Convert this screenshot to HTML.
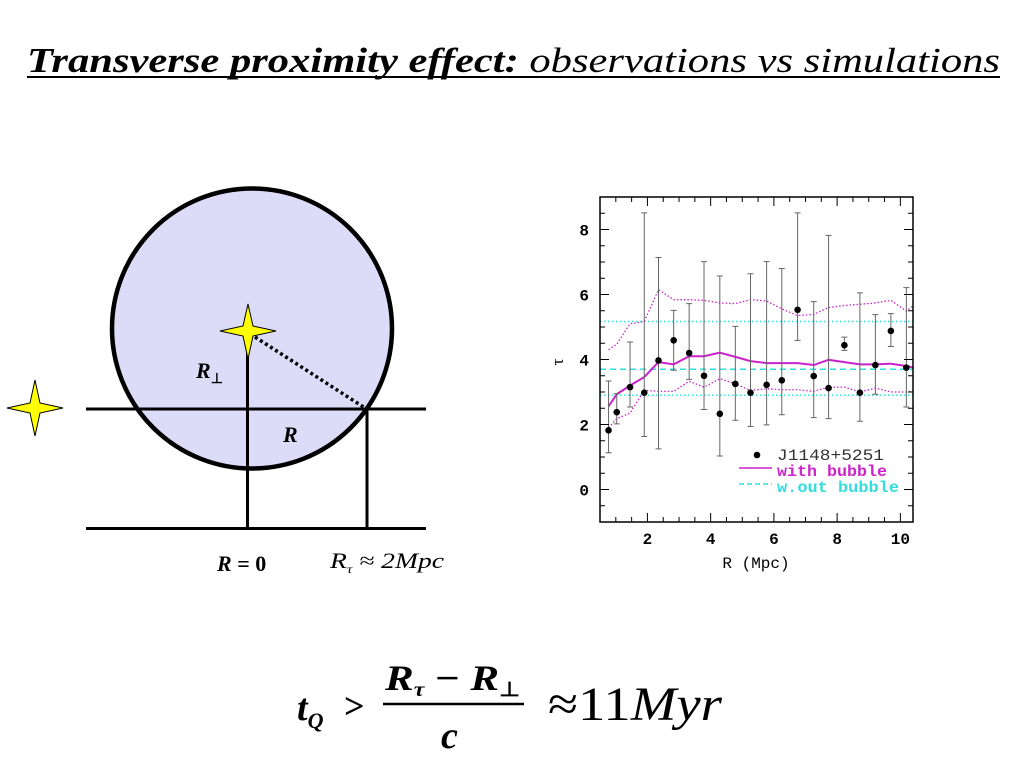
<!DOCTYPE html>
<html><head><meta charset="utf-8"><style>
body{margin:0;width:1024px;height:768px;background:#fff;overflow:hidden;font-family:"Liberation Serif",serif}
svg text{font-family:"Liberation Serif","Times New Roman",serif}
svg text.mono{font-family:"Liberation Mono",monospace}
</style></head><body>
<svg width="1024" height="768">
<text x="27" y="72" font-size="35" font-style="italic" textLength="973" lengthAdjust="spacingAndGlyphs"><tspan font-weight="bold">Transverse proximity effect:</tspan> observations vs simulations</text>
<line x1="27" y1="77" x2="1000" y2="77" stroke="#000" stroke-width="2"/>
<g>
<circle cx="252" cy="328.5" r="140" fill="#dcdcf8" stroke="#000" stroke-width="4.5"/>
<line x1="86" y1="409" x2="426" y2="409" stroke="#000" stroke-width="3"/>
<line x1="86" y1="528.5" x2="426" y2="528.5" stroke="#000" stroke-width="3"/>
<line x1="247.5" y1="345" x2="247.5" y2="528" stroke="#000" stroke-width="3"/>
<line x1="367" y1="409" x2="367" y2="528" stroke="#000" stroke-width="3"/>
<line x1="255" y1="337" x2="365" y2="408" stroke="#000" stroke-width="3.5" stroke-dasharray="3,3"/>
<path d="M248,304 L253,326 L276,331 L253,336 L248,359 L243,336 L220,331 L243,326Z" fill="#ffff00" stroke="#000" stroke-width="1"/>
<path d="M35,380 L40,403 L63,408 L40,413 L35,436 L30,413 L7,408 L30,403Z" fill="#ffff00" stroke="#000" stroke-width="1"/>
<text x="196" y="378" font-size="22" font-weight="bold" font-style="italic">R<tspan font-size="14" dy="5" font-style="normal">⊥</tspan></text>
<text x="283" y="442" font-size="22" font-weight="bold" font-style="italic">R</text>
<text x="217" y="571" font-size="22" font-weight="bold"><tspan font-style="italic">R</tspan> = 0</text>
<text x="330" y="568" font-size="22" font-style="italic" textLength="114" lengthAdjust="spacingAndGlyphs">R<tspan font-size="12" dy="5">τ</tspan><tspan dy="-5"> ≈ 2Mpc</tspan></text>
</g>
<g>
<text x="297" y="720" font-size="38" font-weight="bold" font-style="italic">t<tspan font-size="22" dy="8">Q</tspan></text>
<text x="344" y="718" font-size="36" font-weight="bold">&gt;</text>
<text x="385" y="690" font-size="36" font-weight="bold" font-style="italic" textLength="135" lengthAdjust="spacingAndGlyphs">R<tspan font-size="20" dy="6">τ</tspan><tspan dy="-6" font-style="normal"> − </tspan>R<tspan font-size="20" dy="6" font-style="normal">⊥</tspan></text>
<line x1="383" y1="704" x2="524" y2="704" stroke="#000" stroke-width="2.5"/>
<text x="441" y="748" font-size="38" font-weight="bold" font-style="italic">c</text>
<text x="548" y="720" font-size="48" textLength="174" lengthAdjust="spacingAndGlyphs">≈11<tspan font-style="italic">Myr</tspan></text>
</g>
<g id="chart"></g>
</svg>
<script>
const rX=[0.77,1.03,1.45,1.9,2.35,2.83,3.32,3.79,4.29,4.78,5.26,5.77,6.25,6.75,7.26,7.73,8.23,8.72,9.21,9.7,10.19];
const tauObs=[1.82,2.38,3.15,2.98,3.97,4.59,4.2,3.5,2.33,3.25,2.98,3.22,3.36,5.53,3.49,3.12,4.44,2.98,3.83,4.88,3.75];
const errHi=[3.34,2.95,4.54,8.51,7.14,5.51,5.72,7.01,6.57,5.02,6.64,7.01,6.8,8.51,5.78,7.82,4.69,6.05,5.38,5.41,6.21];
const errLo=[1.13,2.02,2.54,1.63,1.25,3.67,3.39,2.46,1.03,2.13,1.94,1.99,2.3,4.59,2.21,2.18,4.28,2.1,2.93,4.4,2.54];
const lineX=[0.77,1.03,1.45,1.9,2.35,2.83,3.32,3.79,4.29,4.78,5.26,5.77,6.25,6.75,7.26,7.73,8.23,8.72,9.21,9.7,10.19,10.42];
const bubbleMid=[2.56,2.93,3.2,3.46,3.92,3.85,4.1,4.1,4.21,4.08,3.95,3.89,3.89,3.89,3.83,3.99,3.92,3.85,3.85,3.87,3.8,3.75];
const bubbleHi=[4.3,4.47,5.1,5.17,6.15,5.84,5.84,5.82,5.74,5.72,5.84,5.8,5.56,5.35,5.39,5.6,5.66,5.7,5.74,5.82,5.49,5.67];
const bubbleLo=[1.9,2.18,2.35,3.05,3.02,3.02,3.33,3.15,3.41,3.25,3.05,3.1,3.07,3.07,3.02,3.15,3.15,3.0,3.12,3.0,3.0,3.03];
const noBubble=[5.17,3.7,2.9];
const xTicks=[2,4,6,8,10];
const yTicks=[0,2,4,6,8];
const L=600,R=913,T=197,B=522,x0=0.5,x1=10.4,y0=-1,y1=9;
const sx=v=>L+(v-x0)/(x1-x0)*(R-L), sy=v=>B-(v-y0)/(y1-y0)*(B-T);
const NS='http://www.w3.org/2000/svg', g=document.getElementById('chart');
function mk(t,a){const e=document.createElementNS(NS,t);for(const k in a)e.setAttribute(k,a[k]);g.appendChild(e);return e;}
const clip=mk('clipPath',{id:'cp'});const cr=document.createElementNS(NS,'rect');cr.setAttribute('x',L);cr.setAttribute('y',T);cr.setAttribute('width',R-L);cr.setAttribute('height',B-T);clip.appendChild(cr);
noBubble.forEach((v,i)=>{const e=mk('line',{x1:L,x2:R,y1:sy(v),y2:sy(v),stroke:'#33dddd','stroke-width':1.5,'stroke-dasharray':i==1?'6,4':'1.5,2.5'});

});
function poly(ys,dash,w,name){const e=mk('polyline',{points:lineX.map((x,i)=>sx(x)+','+sy(ys[i])).join(' '),fill:'none',stroke:'#cc22cc','stroke-width':w,'clip-path':'url(#cp)'});if(dash)e.setAttribute('stroke-dasharray',dash);

}
poly(bubbleHi,'1.5,2',1.3,'bubble-upper');poly(bubbleLo,'1.5,2',1.3,'bubble-lower');poly(bubbleMid,null,2,'bubble-mean');
rX.forEach((x,i)=>{const X=sx(x);
const e=mk('path',{d:`M${X},${sy(errHi[i])}V${sy(errLo[i])}M${X-3},${sy(errHi[i])}h6M${X-3},${sy(errLo[i])}h6`,stroke:'#666','stroke-width':1,fill:'none'});


const c=mk('circle',{cx:X,cy:sy(tauObs[i]),r:3.3,fill:'#000'});

});
const f=mk('rect',{x:L,y:T,width:R-L,height:B-T,fill:'none',stroke:'#000','stroke-width':1.5});


let d='';
for(let v=1;v<=10;v+=0.5){const X=sx(v);const m=(v%2==0);d+=`M${X},${B}v${m?-9:-5}M${X},${T}v${m?9:5}`;}
for(let v=-0.5;v<=9;v+=0.5){const Y=sy(v);const m=(v%2==0);d+=`M${L},${Y}h${m?9:5}M${R},${Y}h${m?-9:-5}`;}
mk('path',{d,stroke:'#000','stroke-width':1,fill:'none'});
xTicks.forEach(v=>{const t=mk('text',{x:sx(v),y:B+22,'font-size':16,'text-anchor':'middle',class:'mono','font-weight':'bold'});t.textContent=v;

});
yTicks.forEach(v=>{const t=mk('text',{x:L-11,y:sy(v)+6,'font-size':16,'text-anchor':'end',class:'mono','font-weight':'bold'});t.textContent=v;

});
let t=mk('text',{x:756,y:568,'font-size':16,'text-anchor':'middle',class:'mono'});t.textContent='R (Mpc)';


t=mk('text',{x:0,y:0,'font-size':17,'text-anchor':'middle',transform:'translate(563,362) rotate(-90)'});t.textContent='τ';


const lg=[['J1148+5251','#333',0,107],['with bubble','#cc22cc',1,110],['w.out bubble','#33dddd',2,122]];
lg.forEach(([s,c,k,w],i)=>{const y=456+i*16;
if(k==0){const cc=mk('circle',{cx:757,cy:y-1,r:3.3,fill:'#000'});}
else{const l=mk('line',{x1:739,x2:772,y1:y-4,y2:y-4,stroke:c,'stroke-width':1.5});if(k==2)l.setAttribute('stroke-dasharray','5,3');}
const tt=mk('text',{x:777,y:y+4,'font-size':16,fill:c,class:'mono','font-weight':k?'bold':'normal',textLength:w,lengthAdjust:'spacingAndGlyphs'});tt.textContent=s;

});
</script>
</body></html>
